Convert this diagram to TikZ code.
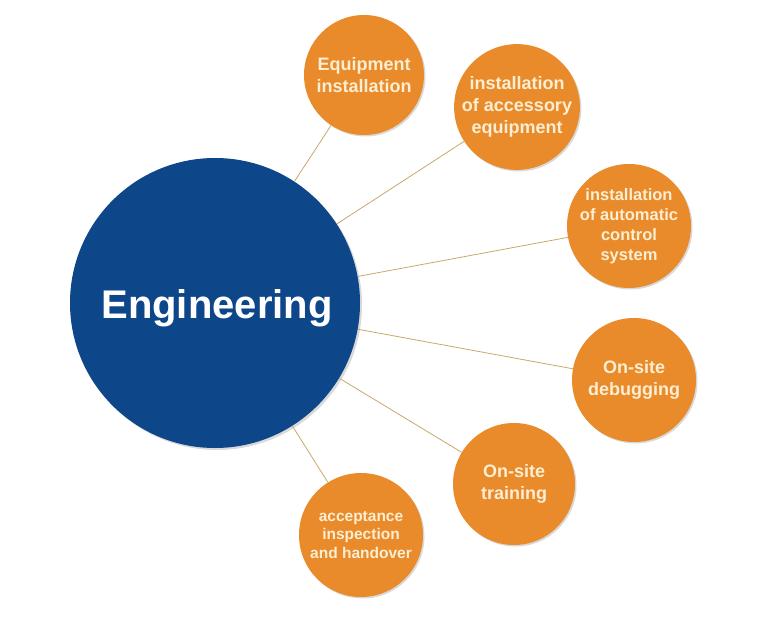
\documentclass[tikz,border=0pt]{standalone}
\usepackage{fontspec}
\setmainfont{Liberation Sans}
\usetikzlibrary{shadows}
\definecolor{blu}{HTML}{0E468A}
\definecolor{arancio}{HTML}{E98B2B}
\definecolor{crema}{HTML}{FCEED2}
\definecolor{oro}{HTML}{C9A86A}

\begin{document}
\begin{tikzpicture}[x=1pt,y=-1pt,
    bolla/.style={circle,fill=arancio,text=crema,minimum size=122pt,inner sep=0pt,align=center,
        font=\bfseries\fontsize{18}{22}\selectfont,
        drop shadow={opacity=0.3,shadow xshift=1.5pt,shadow yshift=-1.5pt}},
    raggio/.style={draw=oro,line width=0.8pt}]
    \useasboundingbox (0,0) rectangle (770,620); % margini

    % Cerchio centrale
    \node[circle,fill=blu,minimum size=290pt,inner sep=0pt,
        drop shadow={opacity=0.3,shadow xshift=2pt,shadow yshift=-2pt}] (centro) at (215,303) {};
    \node[anchor=base,text=white,font=\bfseries\fontsize{40}{48}\selectfont] (titolo) at (217,318) {Engineering};

    % Cerchi arancioni
    \node[bolla,minimum size=120pt] (montaggio) at (364,75) {Equipment\\installation};
    \node[bolla,minimum size=120pt] (accessori) at (517,107) {installation\\of accessory\\equipment};
    \node[bolla,minimum size=124pt,font=\bfseries\fontsize{16.5}{20}\selectfont] (controllo) at (629,226) {installation\\of automatic\\control\\system};
    \node[bolla,minimum size=124pt] (debug) at (634,380) {On-site\\debugging};
    \node[bolla] (formazione) at (514,484) {On-site\\training};
    \node[bolla,minimum size=124pt,font=\bfseries\fontsize{15.5}{18.5}\selectfont] (collaudo) at (361,535) {acceptance\\inspection\\and handover};

    % Raggi
    \draw[raggio] (centro) -- (montaggio);
    \draw[raggio] (centro) -- (accessori);
    \draw[raggio] (centro) -- (controllo);
    \draw[raggio] (centro) -- (debug);
    \draw[raggio] (centro) -- (formazione);
    \draw[raggio] (centro) -- (collaudo);
\end{tikzpicture}
\end{document}
